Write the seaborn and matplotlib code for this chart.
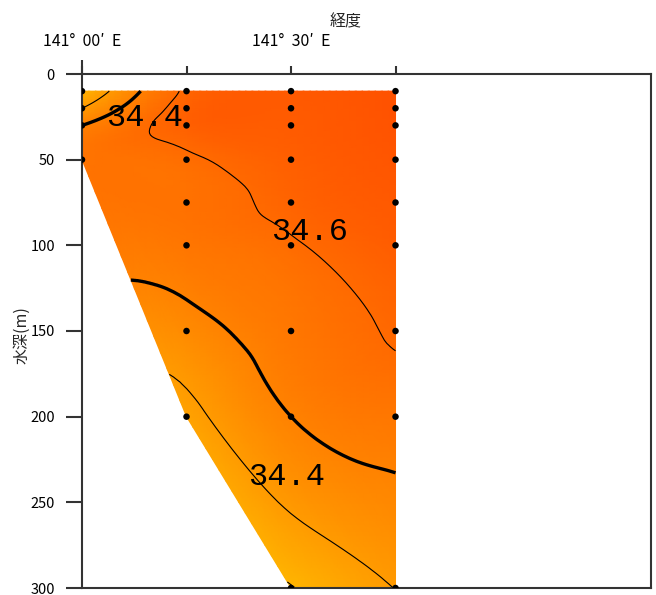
import numpy as np
import matplotlib
matplotlib.use('Agg')
import matplotlib.pyplot as plt
import matplotlib.tri as mtri
from matplotlib.colors import LinearSegmentedColormap, Normalize
import seaborn as sns
import pandas as pd

# ---- data: salinity section (longitude in minutes east of 141°E, depth in m) ----
st1_lon = 0
st1_depth = [10, 20, 30, 50]
st1_sal = [34.305, 34.40, 34.50, 34.56]

st2_lon = 15
st2_depth = [10, 20, 30, 50, 75, 100, 150, 200]
st2_sal = [34.615, 34.635, 34.64, 34.585, 34.57, 34.55, 34.465, 34.37]

st3_lon = 30
st3_depth = [10, 20, 30, 50, 75, 100, 150, 200, 300]
st3_sal = [34.67, 34.665, 34.66, 34.645, 34.625, 34.59, 34.545, 34.50, 34.295]

st4_lon = 45
st4_depth = [10, 20, 30, 50, 75, 100, 150, 200, 300]
st4_sal = [34.70, 34.70, 34.695, 34.685, 34.67, 34.655, 34.61, 34.545, 34.402]

xtick_pos = [0, 15, 30, 45]
xtick_labels = ['141°  00′  E', '', '141°  30′  E', '']
ytick_pos = [0, 50, 100, 150, 200, 250, 300]

label_text = ['34.4', '34.6', '34.4']
label_lon = [9.0, 32.7, 29.3]
label_depth = [25.5, 92.5, 235]

# ---- build table ----
rows = []
for lon, ds, ss in [(st1_lon, st1_depth, st1_sal), (st2_lon, st2_depth, st2_sal),
                    (st3_lon, st3_depth, st3_sal), (st4_lon, st4_depth, st4_sal)]:
    for d, s in zip(ds, ss):
        rows.append({'lon': lon, 'depth': d, 'sal': s})
df = pd.DataFrame(rows)

sns.set_theme(style='white')
plt.rcParams['font.family'] = ['Noto Sans CJK JP', 'DejaVu Sans']

fig = plt.figure(figsize=(6.56, 5.95), dpi=100)
ax = fig.add_axes([82/656, 1 - 588/595, (651-82)/656, (588-74)/595])

# triangulate in screen-like scaled coordinates for smooth interpolation
sx, sy = 6.967, 1.713
x = df['lon'].values.astype(float)
y = df['depth'].values.astype(float)
z = df['sal'].values
tri_s = mtri.Triangulation(x * sx, y * sy)
interp = mtri.CubicTriInterpolator(tri_s, z, kind='min_E')
refiner = mtri.UniformTriRefiner(tri_s)
rtri, rz = refiner.refine_field(z, triinterpolator=interp, subdiv=4)
tri_r = mtri.Triangulation(rtri.x / sx, rtri.y / sy, triangles=rtri.triangles)

cmap = LinearSegmentedColormap.from_list('sal', ['#FFB400', '#FF8200', '#FF5200'])
norm = Normalize(34.3, 34.7)
ax.tripcolor(tri_r, rz, shading='gouraud', cmap=cmap, norm=norm)
ax.tricontour(tri_r, rz, levels=[34.3, 34.4, 34.6], colors='black', linewidths=0.8)
ax.tricontour(tri_r, rz, levels=[34.5], colors='black', linewidths=2.4)

sns.scatterplot(data=df, x='lon', y='depth', color='black', s=22, edgecolor='none',
                legend=False, ax=ax, zorder=5)

for t, lx, ly in zip(label_text, label_lon, label_depth):
    ax.text(lx, ly, t, fontsize=23, family='Liberation Mono', ha='center', va='center',
            color='black', zorder=6)

ax.set_xlim(0, 81.67)
ax.set_ylim(300, 0)
ax.xaxis.tick_top()
ax.set_xticks(xtick_pos)
ax.set_xticklabels(xtick_labels)
ax.set_yticks(ytick_pos)
ax.set_yticklabels([str(v) for v in ytick_pos])
ax.set_xlabel('')
ax.set_ylabel('')
ax.tick_params(axis='x', which='major', direction='out', length=6, width=1.5,
               color='#333333', pad=11, labelsize=11.5, labelcolor='black', top=True, bottom=False)
ax.tick_params(axis='y', which='major', direction='out', length=11.5, width=1.5,
               color='#333333', pad=8, labelsize=10.5, labelcolor='black', left=True)
for sp in ax.spines.values():
    sp.set_color('#333333')
    sp.set_linewidth(1.5)
    sp.set_visible(True)
ax.plot([0, 0], [1, 1 + 14/514], transform=ax.transAxes, color='#333333', lw=1.5,
        clip_on=False, solid_capstyle='butt')
ax.grid(False)

ax.text((346-82)/569, (588-22)/514, '経度', transform=ax.transAxes, fontsize=11.5,
        ha='center', va='center')
fig.text(22/656, 1 - 335/595, '水深(m)', rotation=90, fontsize=11.5, ha='center', va='center')

fig.savefig('out.png', dpi=100, facecolor='white')
